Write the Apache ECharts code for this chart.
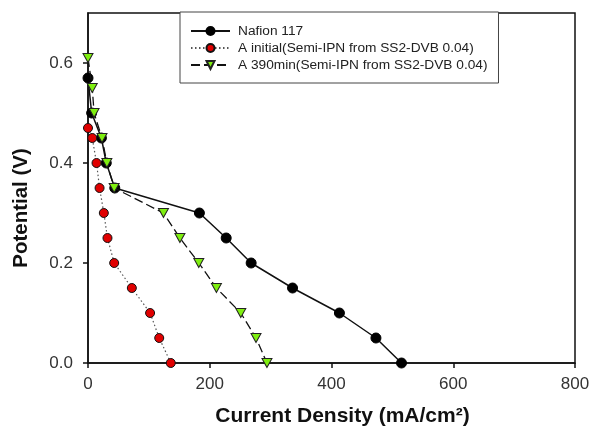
<!DOCTYPE html>
<html><head><meta charset="utf-8">
<script src="https://cdn.jsdelivr.net/npm/echarts@6/dist/echarts.min.js"></script>
<style>html,body{margin:0;padding:0;background:#fff}#c{width:597px;height:426px}</style>
</head><body><div id="c"></div>
<script>
const seriesNames = ["Nafion 117", "A initial(Semi-IPN from SS2-DVB 0.04)", "A 390min(Semi-IPN from SS2-DVB 0.04)"];
const nafionX = [0, 6, 22, 30, 44, 183, 227, 268, 336, 413, 473, 515];
const nafionY = [0.57, 0.50, 0.45, 0.40, 0.35, 0.30, 0.25, 0.20, 0.15, 0.10, 0.05, 0.00];
const initialX = [0, 7, 14, 19, 26, 32, 43, 72, 102, 117, 136];
const initialY = [0.47, 0.45, 0.40, 0.35, 0.30, 0.25, 0.20, 0.15, 0.10, 0.05, 0.00];
const min390X = [0, 7, 10, 23, 31, 43, 124, 151, 182, 211, 251, 276, 294];
const min390Y = [0.61, 0.55, 0.50, 0.45, 0.40, 0.35, 0.30, 0.25, 0.20, 0.15, 0.10, 0.05, 0.00];
const xTicks = [0, 200, 400, 600, 800];
const yTicks = [0, 0.2, 0.4, 0.6];

const pairs = (xs, ys) => xs.map((x, i) => [x, ys[i]]);
const chart = echarts.init(document.getElementById('c'), null, {renderer: 'canvas'});
const font = 'Arial, "Liberation Sans", sans-serif';
chart.setOption({
  animation: false,
  backgroundColor: '#fff',
  grid: {left: 88, right: 22, top: 13, bottom: 63, show: true, borderColor: '#111', borderWidth: 1.5,
    backgroundColor: 'transparent', containLabel: false, outerBoundsMode: 'none'},
  legend: {
    orient: 'vertical', left: 180, top: 12,
    backgroundColor: '#fff', borderColor: '#444', borderWidth: 1,
    padding: [12, 11, 11, 10], itemWidth: 39, itemHeight: 10, itemGap: 3,
    textStyle: {fontFamily: font, fontSize: 13.7, color: '#222', lineHeight: 14, padding: [0, 0, 0, 3]},
    data: seriesNames
  },
  xAxis: {
    type: 'value', min: 0, max: 800, interval: 200,
    name: 'Current Density (mA/cm²)', nameLocation: 'middle', nameGap: 43,
    nameTextStyle: {fontFamily: font, fontSize: 21, fontWeight: 'bold', color: '#111', padding: [0, 0, 0, 22]},
    axisLine: {show: true, lineStyle: {color: '#111', width: 1.5}},
    axisTick: {show: true, inside: false, length: 5, lineStyle: {color: '#111', width: 1.5}, customValues: xTicks},
    axisLabel: {fontFamily: font, fontSize: 17, color: '#333', margin: 13, customValues: xTicks},
    splitLine: {show: false}
  },
  yAxis: {
    type: 'value', min: 0, max: 0.7, interval: 0.2,
    name: 'Potential (V)', nameLocation: 'middle', nameGap: 56,
    nameTextStyle: {fontFamily: font, fontSize: 20.5, fontWeight: 'bold', color: '#111', padding: [0, 40, 0, 0]},
    axisLine: {show: true, lineStyle: {color: '#111', width: 1.5}},
    axisTick: {show: true, inside: false, length: 5, lineStyle: {color: '#111', width: 1.5}, customValues: yTicks},
    axisLabel: {fontFamily: font, fontSize: 17, color: '#333', margin: 15, customValues: yTicks,
      formatter: v => v.toFixed(1)},
    splitLine: {show: false}
  },
  series: [
    {
      name: seriesNames[0], type: 'line', data: pairs(nafionX, nafionY),
      symbol: 'circle', symbolSize: 10,
      lineStyle: {color: '#111', width: 1.5, type: 'solid'},
      itemStyle: {color: '#000', borderColor: '#000', borderWidth: 1},
      z: 2
    },
    {
      name: seriesNames[1], type: 'line', data: pairs(initialX, initialY),
      symbol: 'circle', symbolSize: 9,
      lineStyle: {color: '#555', width: 1.2, type: [1.5, 2.5]},
      itemStyle: {color: '#e00000', borderColor: '#111', borderWidth: 1},
      z: 3
    },
    {
      name: seriesNames[2], type: 'line', data: pairs(min390X, min390Y),
      symbol: 'triangle', symbolRotate: 180, symbolSize: [10, 9],
      lineStyle: {color: '#111', width: 1.3, type: [9, 4]},
      itemStyle: {color: '#7fef10', borderColor: '#222', borderWidth: 1},
      z: 4
    }
  ]
});
</script></body></html>
